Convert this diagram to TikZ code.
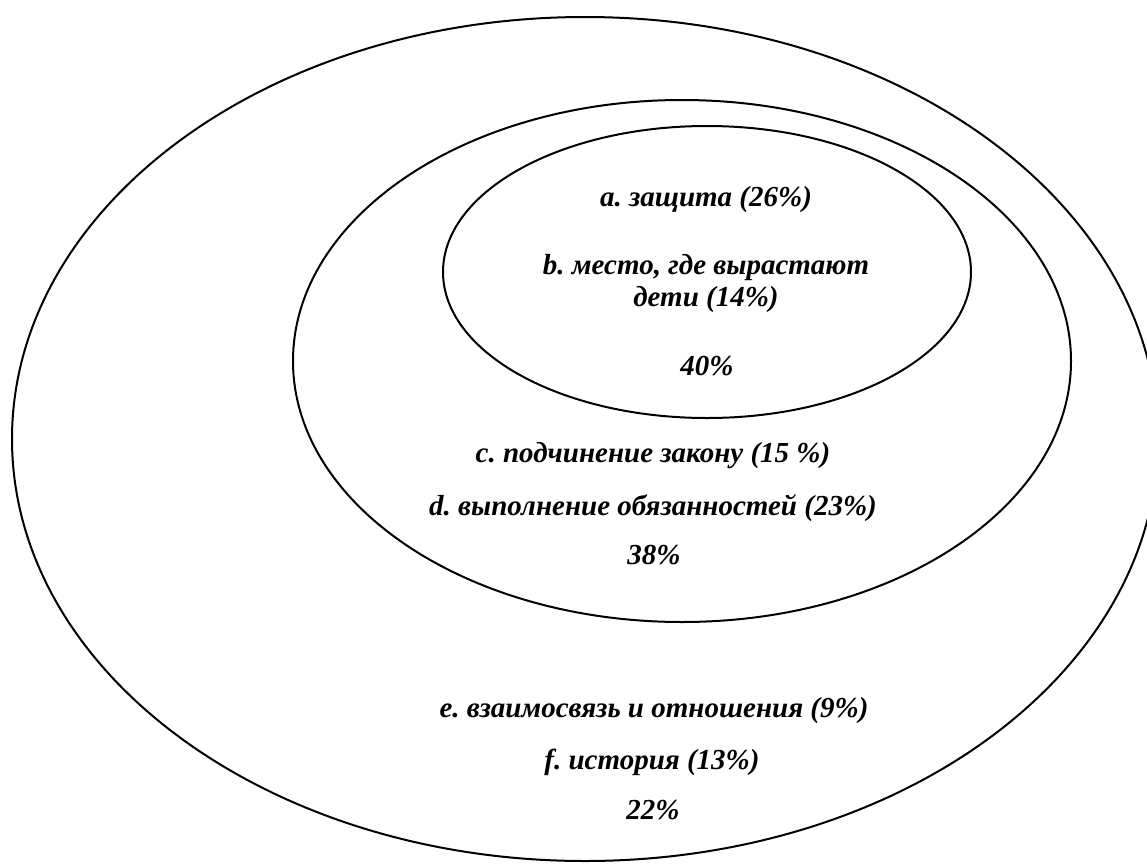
\documentclass[tikz,border=0pt]{standalone}
\usepackage{fontspec}
\setmainfont{Liberation Serif}[BoldItalicFont={Liberation Serif Bold Italic}]
\usepackage{tikz}
\frenchspacing
\tikzset{
  ring/.style={draw=black,line width=1pt},
  lbl/.style={font=\fontsize{14.5}{16}\selectfont\bfseries\itshape,align=center,inner sep=0pt}
}

\begin{document}
\begin{tikzpicture}[x=0.5pt,y=-0.5pt]
  \useasboundingbox (0,0) rectangle (1147,863);
  \clip (0,0) rectangle (1147,863);
  % Rings
  \draw[ring] (585,439) ellipse [x radius=573,y radius=422];
  \draw[ring] (682,361) ellipse [x radius=389,y radius=261];
  \draw[ring] (707,272) ellipse [x radius=264,y radius=146];
  % Inner ring labels
  \node[lbl] (protect) at (706,200) {a. защита (26\%)};
  \node[lbl] (kids) at (706,284) {b. место, где вырастают\\дети (14\%)};
  \node[lbl] (inner) at (707,366) {40\%};
  % Middle ring labels
  \node[lbl] (law) at (653,456) {c. подчинение закону (15 \%)};
  \node[lbl] (duty) at (653,508) {d. выполнение обязанностей (23\%)};
  \node[lbl] (middle) at (654,555) {38\%};
  % Outer ring labels
  \node[lbl] (ties) at (654,711) {e. взаимосвязь и отношения (9\%)};
  \node[lbl] (history) at (652,762) {f. история (13\%)};
  \node[lbl] (outer) at (653,810) {22\%};
\end{tikzpicture}
\end{document}
